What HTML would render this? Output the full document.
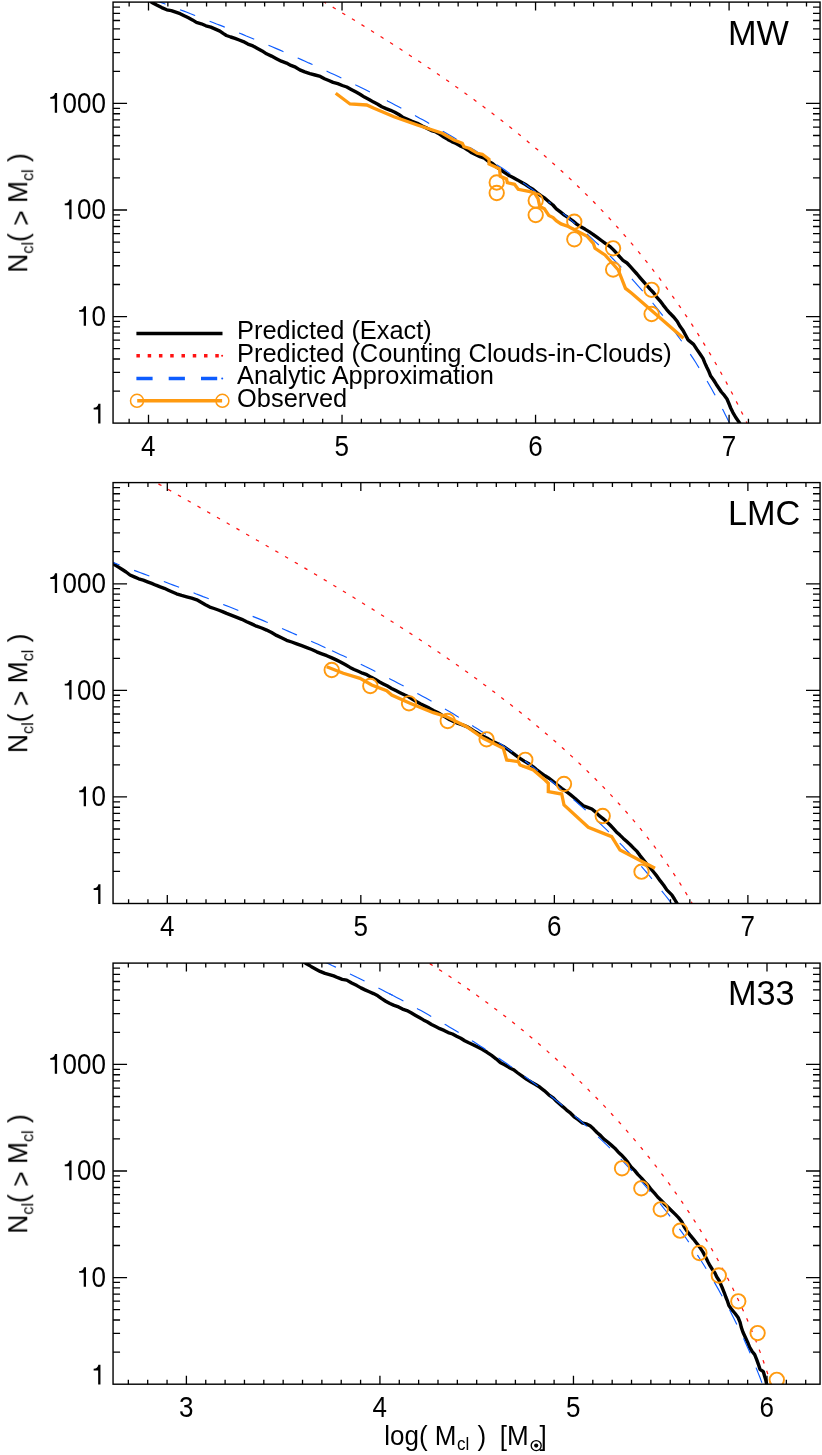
<!DOCTYPE html>
<html lang="en"><head><meta charset="utf-8"><title>Cloud mass functions</title>
<style>html,body{margin:0;padding:0;background:#fff}svg{display:block} text{font-family:"Liberation Sans", sans-serif;fill:#000}</style></head><body>
<svg width="822" height="1455" viewBox="0 0 822 1455">
<rect x="0" y="0" width="822" height="1455" fill="#fff"/>
<defs>
<filter id="ga" x="-5%" y="-5%" width="110%" height="110%" color-interpolation-filters="sRGB"><feOffset dx="0" dy="0"/></filter>
<clipPath id="cp0"><rect x="113.05" y="2.1" width="707.0" height="421.0"/></clipPath>
<clipPath id="cp1"><rect x="113.05" y="482.6" width="707.0" height="420.9"/></clipPath>
<clipPath id="cp2"><rect x="113.05" y="963.1" width="707.0" height="421.1"/></clipPath>
</defs>
<g id="panel0">
<g clip-path="url(#cp0)" fill="none" stroke-linejoin="round">
<polyline points="149.7,0.3 151.9,2.4 156.7,5.1 161.7,7.6 166.8,9.8 171.3,10.6 175.7,12.2 180.1,13.7 184.2,15.8 188.4,17.8 192.4,19.9 196.4,22.4 201.3,23.8 205.9,25.8 210.8,27.1 215.4,29.1 219.9,31.1 223.1,33.4 226.4,35.5 230.7,37.0 235.0,38.3 239.2,40.0 243.3,41.6 247.9,44.1 252.9,45.9 257.5,48.4 262.1,50.9 266.5,53.8 271.5,56.1 276.4,58.7 281.3,61.2 286.5,63.1 290.9,65.4 295.5,67.2 299.8,69.9 304.7,71.9 309.9,73.6 315.1,75.0 320.3,76.4 324.5,78.7 328.8,80.5 333.1,82.4 337.8,83.7 342.3,85.5 346.8,87.0 351.2,89.4 355.6,91.8 360.0,94.3 364.4,97.1 369.1,99.5 373.6,102.1 377.8,104.2 381.8,106.7 386.1,108.6 390.6,110.3 394.8,112.2 398.8,114.5 402.7,117.2 406.9,119.1 412.0,121.4 417.3,123.3 422.2,126.0 427.3,128.4 431.4,130.6 435.9,132.0 439.9,134.4 443.8,137.0 447.8,139.4 451.8,141.6 456.1,143.5 460.1,145.9 464.3,147.8 468.1,150.2 471.8,152.8 475.9,154.7 480.0,156.7 484.4,158.2 488.2,161.3 492.5,163.6 496.3,166.8 500.4,169.5 504.4,172.4 508.5,175.2 513.0,177.5 517.4,179.9 521.4,182.2 525.5,184.5 529.3,187.1 533.2,189.5 536.8,192.5 540.9,195.6 545.1,198.4 548.9,201.8 552.9,205.0 556.3,208.8 560.3,211.9 564.3,215.1 568.6,217.9 572.8,220.8 576.6,224.1 580.7,226.7 584.9,229.1 589.0,231.6 593.0,234.3 597.2,237.4 601.4,240.5 605.7,243.6 610.1,246.6 613.5,249.9 616.7,253.4 619.8,256.9 623.0,260.3 627.0,263.0 630.4,266.7 633.7,270.4 637.0,274.0 640.2,277.8 643.5,281.6 646.8,285.3 650.1,289.1 653.6,292.7 656.5,296.9 660.0,300.8 663.2,305.1 666.5,309.3 670.0,313.3 673.9,317.2 677.3,321.5 680.0,326.3 683.2,330.7 685.6,335.3 688.1,339.9 693.6,344.4 696.7,349.1 699.9,353.7 703.0,358.4 704.8,362.9 706.8,367.3 708.9,371.6 710.7,376.1 713.6,380.0 716.2,384.2 718.9,388.2 721.4,392.0 724.4,395.4 727.0,399.0 728.9,403.5 730.7,408.0 732.8,412.3 735.8,417.5 739.3,422.5 742.2,427.9" stroke="#000" stroke-width="3.4"/>
<polyline points="321.0,0.1 324.4,2.2 327.8,4.2 331.2,6.2 334.6,8.3 338.0,10.3 341.4,12.4 344.8,14.5 348.2,16.5 351.7,18.6 355.1,20.7 358.5,22.8 361.9,24.9 365.3,27.0 368.7,29.1 372.1,31.2 375.4,33.3 378.8,35.4 382.2,37.6 385.6,39.7 389.0,41.8 392.4,44.0 395.7,46.2 399.1,48.3 402.5,50.5 405.8,52.7 409.2,54.9 412.5,57.1 415.9,59.3 419.2,61.5 422.6,63.7 425.9,66.0 429.2,68.2 432.5,70.4 435.9,72.7 439.2,75.0 442.5,77.2 445.8,79.5 449.1,81.8 452.3,84.1 455.6,86.4 458.9,88.7 462.2,91.1 465.4,93.4 468.7,95.8 471.9,98.1 475.1,100.5 478.4,102.9 481.6,105.3 484.8,107.7 488.0,110.1 491.2,112.5 494.4,114.9 497.6,117.4 500.7,119.8 503.9,122.3 507.0,124.7 510.2,127.2 513.3,129.7 516.4,132.2 519.5,134.8 522.6,137.3 525.7,139.8 528.8,142.4 531.9,144.9 534.9,147.5 538.0,150.1 541.0,152.7 544.0,155.3 547.1,158.0 550.1,160.6 553.0,163.3 556.0,165.9 559.0,168.6 561.9,171.3 564.9,174.0 567.8,176.7 570.7,179.4 573.6,182.2 576.5,184.9 579.4,187.7 582.2,190.5 585.1,193.3 587.9,196.1 590.8,198.9 593.6,201.8 596.3,204.6 599.1,207.5 601.9,210.4 604.6,213.3 607.4,216.2 610.1,219.1 612.8,222.1 615.5,225.0 618.1,228.0 620.8,231.0 623.4,234.0 626.1,237.0 628.7,240.0 631.3,243.1 633.9,246.1 636.4,249.2 639.0,252.3 641.5,255.4 644.0,258.5 646.5,261.6 649.0,264.7 651.5,267.9 653.9,271.1 656.4,274.2 658.8,277.4 661.2,280.6 663.6,283.8 666.0,287.0 668.3,290.3 670.7,293.5 673.0,296.8 675.3,300.1 677.6,303.3 679.9,306.6 682.2,309.9 684.4,313.3 686.7,316.6 688.9,319.9 691.1,323.3 693.3,326.6 695.4,330.0 697.6,333.4 699.7,336.8 701.8,340.2 703.9,343.6 706.0,347.0 708.1,350.5 710.1,353.9 712.2,357.4 714.2,360.8 716.2,364.3 718.2,367.8 720.2,371.3 722.1,374.8 724.1,378.3 726.0,381.8 727.9,385.4 729.8,388.9 731.7,392.5 733.5,396.0 735.3,399.6 737.2,403.2 739.0,406.7 740.8,410.3 742.5,413.9 744.3,417.5 746.0,421.2 747.7,424.8 749.4,428.4" stroke="#ff1212" stroke-width="1.25" stroke-dasharray="3.5 7.73" stroke-dashoffset="8.79"/>
<polyline points="157.0,1.0 160.8,2.4 164.5,3.8 168.2,5.2 172.0,6.6 175.7,8.0 179.4,9.5 183.2,10.9 186.9,12.3 190.6,13.8 194.3,15.2 198.1,16.6 201.8,18.1 205.5,19.6 209.2,21.0 212.9,22.5 216.6,24.0 220.4,25.4 224.1,26.9 227.8,28.4 231.5,29.9 235.2,31.4 238.9,32.9 242.6,34.4 246.3,36.0 250.0,37.5 253.7,39.0 257.4,40.6 261.0,42.1 264.7,43.7 268.4,45.2 272.1,46.8 275.8,48.4 279.4,49.9 283.1,51.5 286.8,53.1 290.4,54.7 294.1,56.3 297.8,58.0 301.4,59.6 305.1,61.2 308.7,62.9 312.4,64.5 316.0,66.2 319.6,67.8 323.3,69.5 326.9,71.2 330.5,72.9 334.1,74.6 337.8,76.3 341.4,78.0 345.0,79.7 348.6,81.5 352.2,83.2 355.8,85.0 359.4,86.7 363.0,88.5 366.6,90.3 370.1,92.1 372.8,93.4" stroke="#0d5cff" stroke-width="1.15" stroke-dasharray="16.3 15.5" stroke-dashoffset="7.24"/>
<polyline points="386.9,100.6 388.0,101.2 391.5,103.0 395.1,104.9 398.6,106.7 402.1,108.6 405.7,110.5 409.2,112.4 412.7,114.3 416.2,116.2 419.7,118.2 423.3,120.1 426.8,122.1 430.2,124.0 433.7,126.0 437.2,128.0 440.7,130.0 444.2,132.0 447.6,134.0 451.1,136.1 454.5,138.1 458.0,140.2 461.4,142.2 464.8,144.3 468.3,146.4 471.7,148.5 475.1,150.6 478.5,152.8 481.9,154.9 485.2,157.1 488.6,159.3 492.0,161.4 495.3,163.7 498.7,165.9 502.0,168.1 505.3,170.3 508.6,172.6 511.9,174.9 515.2,177.2 518.5,179.5 521.7,181.8 525.0,184.1 528.2,186.5 531.4,188.8 534.7,191.2 537.9,193.6 541.0,196.0 544.2,198.5 547.4,200.9 550.0,202.9" stroke="#0d5cff" stroke-width="1.15" stroke-dasharray="16.3 15.5" stroke-dashoffset="0.00"/>
<polyline points="550.0,202.9 550.5,203.4 553.7,205.8 556.8,208.3 559.9,210.8 563.0,213.4 566.1,215.9 569.1,218.5 572.2,221.1 575.2,223.6 578.2,226.3 581.2,228.9 584.2,231.5 587.2,234.2 590.1,236.9 593.1,239.6 596.0,242.3 598.9,245.1 601.8,247.8 604.6,250.6 607.5,253.4 610.3,256.2 613.1,259.0 615.9,261.9 618.7,264.7 621.5,267.6 624.2,270.5 626.9,273.4 629.6,276.4 632.3,279.3 635.0,282.3 637.6,285.3 640.3,288.3 642.9,291.3 645.5,294.3 648.0,297.4 650.6,300.4 653.1,303.5 655.6,306.6 658.1,309.7 660.6,312.9 663.1,316.0 665.5,319.2 667.9,322.4 670.3,325.6 672.7,328.8 675.0,332.0 677.4,335.3 679.7,338.5 682.0,341.8 684.2,345.1 686.5,348.4 688.7,351.7 690.9,355.1 693.1,358.4 695.3,361.8 697.4,365.2 699.5,368.6 701.6,372.0 703.7,375.4 705.7,378.9 707.8,382.3 709.8,385.8 711.8,389.3 713.7,392.8 715.7,396.3 717.6,399.9 719.5,403.4 721.4,407.0 723.3,410.6 725.1,414.2 726.9,417.8 728.7,421.4 730.5,425.0 732.2,428.7" stroke="#0d5cff" stroke-width="1.15" stroke-dasharray="16.3 15.5" stroke-dashoffset="15.38"/>
<polyline points="335.7,93.3 350.0,104.0 366.7,105.0 374.0,108.3 394.0,116.7 417.3,125.0 442.3,133.3 454.0,140.0 462.3,143.3 464.0,146.7 469.0,148.3 477.3,153.3 482.3,154.3 489.0,159.3 489.0,164.0 499.5,168.8 500.3,176.3 506.5,179.0 507.3,182.7 514.5,184.3 518.2,189.3 530.0,191.7 534.5,193.0 538.0,198.5 539.8,206.5 544.4,208.8 548.8,215.5 553.1,217.5 556.2,220.7 561.0,223.9 568.3,226.5 575.0,230.0 586.7,236.0 593.3,243.3 595.0,248.3 605.0,255.0 618.3,270.0 625.5,288.4 631.7,293.3 683.5,338.3" stroke="#ff9a10" stroke-width="3.3" stroke-linejoin="miter"/>
<circle cx="496.7" cy="182.5" r="7.2" stroke="#ff9a10" stroke-width="1.9"/>
<circle cx="496.7" cy="193" r="7.2" stroke="#ff9a10" stroke-width="1.9"/>
<circle cx="535.7" cy="200.5" r="7.2" stroke="#ff9a10" stroke-width="1.9"/>
<circle cx="535.7" cy="215" r="7.2" stroke="#ff9a10" stroke-width="1.9"/>
<circle cx="574.3" cy="221.7" r="7.2" stroke="#ff9a10" stroke-width="1.9"/>
<circle cx="574.3" cy="239.3" r="7.2" stroke="#ff9a10" stroke-width="1.9"/>
<circle cx="613.1" cy="248.3" r="7.2" stroke="#ff9a10" stroke-width="1.9"/>
<circle cx="613.1" cy="269.5" r="7.2" stroke="#ff9a10" stroke-width="1.9"/>
<circle cx="651.6" cy="289.8" r="7.2" stroke="#ff9a10" stroke-width="1.9"/>
<circle cx="651.6" cy="314" r="7.2" stroke="#ff9a10" stroke-width="1.9"/>
</g>
<path d="M129.15 423.15v-4.3M129.15 2.1v4.3M148.50 423.15v-8.4M148.50 2.1v8.4M167.85 423.15v-4.3M167.85 2.1v4.3M187.21 423.15v-4.3M187.21 2.1v4.3M206.56 423.15v-4.3M206.56 2.1v4.3M225.91 423.15v-4.3M225.91 2.1v4.3M245.26 423.15v-4.3M245.26 2.1v4.3M264.62 423.15v-4.3M264.62 2.1v4.3M283.97 423.15v-4.3M283.97 2.1v4.3M303.32 423.15v-4.3M303.32 2.1v4.3M322.68 423.15v-4.3M322.68 2.1v4.3M342.03 423.15v-8.4M342.03 2.1v8.4M361.38 423.15v-4.3M361.38 2.1v4.3M380.74 423.15v-4.3M380.74 2.1v4.3M400.09 423.15v-4.3M400.09 2.1v4.3M419.44 423.15v-4.3M419.44 2.1v4.3M438.79 423.15v-4.3M438.79 2.1v4.3M458.15 423.15v-4.3M458.15 2.1v4.3M477.50 423.15v-4.3M477.50 2.1v4.3M496.85 423.15v-4.3M496.85 2.1v4.3M516.21 423.15v-4.3M516.21 2.1v4.3M535.56 423.15v-8.4M535.56 2.1v8.4M554.91 423.15v-4.3M554.91 2.1v4.3M574.27 423.15v-4.3M574.27 2.1v4.3M593.62 423.15v-4.3M593.62 2.1v4.3M612.97 423.15v-4.3M612.97 2.1v4.3M632.33 423.15v-4.3M632.33 2.1v4.3M651.68 423.15v-4.3M651.68 2.1v4.3M671.03 423.15v-4.3M671.03 2.1v4.3M690.38 423.15v-4.3M690.38 2.1v4.3M709.74 423.15v-4.3M709.74 2.1v4.3M729.09 423.15v-8.4M729.09 2.1v8.4M748.44 423.15v-4.3M748.44 2.1v4.3M767.80 423.15v-4.3M767.80 2.1v4.3M787.15 423.15v-4.3M787.15 2.1v4.3M806.50 423.15v-4.3M806.50 2.1v4.3M113.05 391.07h7M820.0 391.07h-7M113.05 372.30h7M820.0 372.30h-7M113.05 358.99h7M820.0 358.99h-7M113.05 348.66h7M820.0 348.66h-7M113.05 340.22h7M820.0 340.22h-7M113.05 333.09h7M820.0 333.09h-7M113.05 326.91h7M820.0 326.91h-7M113.05 321.46h7M820.0 321.46h-7M113.05 316.58h14M820.0 316.58h-14M113.05 284.50h7M820.0 284.50h-7M113.05 265.73h7M820.0 265.73h-7M113.05 252.42h7M820.0 252.42h-7M113.05 242.09h7M820.0 242.09h-7M113.05 233.65h7M820.0 233.65h-7M113.05 226.52h7M820.0 226.52h-7M113.05 220.34h7M820.0 220.34h-7M113.05 214.89h7M820.0 214.89h-7M113.05 210.01h14M820.0 210.01h-14M113.05 177.93h7M820.0 177.93h-7M113.05 159.16h7M820.0 159.16h-7M113.05 145.85h7M820.0 145.85h-7M113.05 135.52h7M820.0 135.52h-7M113.05 127.08h7M820.0 127.08h-7M113.05 119.95h7M820.0 119.95h-7M113.05 113.77h7M820.0 113.77h-7M113.05 108.32h7M820.0 108.32h-7M113.05 103.44h14M820.0 103.44h-14M113.05 71.36h7M820.0 71.36h-7M113.05 52.59h7M820.0 52.59h-7M113.05 39.28h7M820.0 39.28h-7M113.05 28.95h7M820.0 28.95h-7M113.05 20.51h7M820.0 20.51h-7M113.05 13.38h7M820.0 13.38h-7M113.05 7.20h7M820.0 7.20h-7" stroke="#000" stroke-width="1.3" fill="none"/>
<rect x="113.05" y="2.1" width="707.0" height="421.0" fill="none" stroke="#000" stroke-width="1.4"/>
</g>
<g id="panel1">
<g clip-path="url(#cp1)" fill="none" stroke-linejoin="round">
<polyline points="110.2,562.1 113.5,564.0 117.7,566.6 121.9,569.3 126.1,572.0 130.0,575.0 134.3,576.9 138.7,578.8 143.2,580.1 147.5,581.8 151.7,583.4 155.9,585.2 160.2,586.9 164.3,588.3 168.4,590.2 172.4,592.0 176.5,593.8 181.6,595.4 186.7,596.8 191.7,598.2 196.8,599.8 201.1,602.3 205.4,604.8 209.8,607.1 214.1,608.5 218.3,610.0 222.5,611.6 226.6,613.4 231.7,615.3 236.8,617.3 241.8,619.3 246.7,621.7 251.6,623.9 256.5,626.2 261.7,628.0 266.6,630.1 271.6,632.6 276.5,635.4 281.5,637.8 286.6,640.3 291.7,642.0 296.7,643.9 301.7,645.7 306.8,647.6 311.8,649.5 316.7,651.8 321.8,653.8 326.8,655.7 331.3,657.6 335.7,659.6 340.0,661.7 345.1,664.5 350.0,667.4 354.1,669.5 358.3,671.3 362.5,673.2 366.8,674.7 370.9,677.1 375.1,679.3 379.2,681.7 383.3,683.9 387.5,686.1 391.6,688.4 395.8,690.6 400.0,692.7 404.3,694.8 408.6,696.7 412.6,699.3 416.7,701.7 420.8,704.0 425.1,706.1 429.3,708.1 433.4,710.5 437.7,712.5 441.7,714.9 445.8,717.2 449.8,719.8 454.0,721.6 458.1,723.5 462.5,724.9 466.8,726.6 470.9,728.9 474.9,731.6 479.0,733.9 483.2,736.3 487.2,738.3 491.1,740.7 495.2,742.5 499.3,744.5 503.4,746.5 507.7,749.3 511.8,752.3 515.8,755.4 520.0,758.4 524.2,761.1 528.7,763.7 532.9,766.6 536.8,769.8 540.9,772.9 545.0,775.8 549.4,778.5 553.3,781.6 557.5,785.0 561.6,788.4 566.1,791.4 570.4,794.6 574.8,798.2 579.0,802.1 583.4,805.8 587.6,807.4 591.9,809.0 595.7,812.1 599.1,815.6 603.0,818.6 606.7,821.8 610.1,825.0 613.3,828.4 616.4,831.9 619.9,835.1 623.3,838.4 626.8,841.6 630.3,844.7 633.6,848.1 637.0,851.4 640.0,855.6 643.2,859.6 646.4,863.5 650.1,867.7 653.6,872.0 657.1,876.4 660.3,880.9 663.7,885.3 666.8,889.9 671.8,894.9 674.4,899.0 676.9,903.2 679.0,908.0" stroke="#000" stroke-width="3.4"/>
<polyline points="156.3,482.6 159.7,484.6 163.2,486.5 166.6,488.5 170.1,490.5 173.5,492.5 177.0,494.4 180.4,496.4 183.9,498.4 187.4,500.4 190.8,502.3 194.3,504.3 197.8,506.3 201.3,508.3 204.7,510.3 208.2,512.2 211.7,514.2 215.2,516.2 218.7,518.2 222.1,520.2 225.6,522.2 229.1,524.2 232.6,526.2 236.1,528.2 239.6,530.2 243.0,532.2 246.5,534.2 250.0,536.2 253.5,538.2 257.0,540.2 260.5,542.2 264.0,544.2 267.4,546.2 270.9,548.3 274.4,550.3 277.9,552.3 281.4,554.3 284.9,556.4 288.3,558.4 291.8,560.5 295.3,562.5 298.8,564.5 302.2,566.6 305.7,568.6 309.2,570.7 312.7,572.8 316.1,574.8 319.6,576.9 323.1,579.0 326.5,581.0 330.0,583.1 333.4,585.2 336.9,587.3 340.3,589.4 343.8,591.5 347.2,593.6 350.7,595.7 354.1,597.8 357.5,599.9 361.0,602.0 364.4,604.2 367.8,606.3 371.3,608.4 374.7,610.6 378.1,612.7 381.5,614.9 384.9,617.0 388.3,619.2 391.7,621.4 395.1,623.5 398.5,625.7 401.9,627.9 405.2,630.1 408.6,632.3 412.0,634.5 415.3,636.7 418.7,638.9 422.1,641.1 425.4,643.4 428.7,645.6 432.1,647.8 435.4,650.1 438.7,652.3 442.0,654.6 445.4,656.9 448.7,659.2 452.0,661.5 455.3,663.8 458.5,666.1 461.8,668.4 465.1,670.7 468.4,673.0 471.6,675.4 474.9,677.7 478.1,680.1 481.4,682.5 484.6,684.9 487.8,687.2 491.0,689.7 494.2,692.1 497.4,694.5 500.6,696.9 503.8,699.4 507.0,701.8 510.1,704.3 513.3,706.8 516.4,709.2 519.6,711.7 522.7,714.2 525.8,716.8 529.0,719.3 532.1,721.8 535.2,724.4 538.2,727.0 541.3,729.6 544.4,732.2 547.4,734.8 550.5,737.4 553.5,740.0 556.6,742.7 559.6,745.3 562.6,748.0 565.6,750.7 568.5,753.4 571.5,756.1 574.5,758.8 577.4,761.6 580.3,764.3 583.2,767.1 586.1,769.9 589.0,772.7 591.9,775.5 594.7,778.3 597.6,781.2 600.4,784.0 603.2,786.9 606.0,789.8 608.7,792.7 611.5,795.6 614.2,798.6 616.9,801.5 619.6,804.5 622.3,807.5 625.0,810.5 627.6,813.5 630.2,816.5 632.9,819.6 635.4,822.6 638.0,825.7 640.6,828.8 643.1,832.0 645.6,835.1 648.1,838.3 650.5,841.4 653.0,844.6 655.4,847.8 657.8,851.1 660.2,854.3 662.6,857.6 664.9,860.8 667.2,864.1 669.5,867.5 671.8,870.8 674.0,874.1 676.3,877.5 678.5,880.9 680.6,884.3 682.8,887.8 684.9,891.2 687.0,894.7 689.1,898.2 691.2,901.7 693.2,905.2 695.2,908.8" stroke="#ff1212" stroke-width="1.25" stroke-dasharray="3.5 7.73" stroke-dashoffset="8.76"/>
<polyline points="110.4,561.5 114.1,562.9 117.8,564.3 121.5,565.6 125.1,567.0 128.8,568.4 132.5,569.8 136.2,571.1 139.9,572.5 143.6,573.9 147.3,575.3 151.1,576.7 154.8,578.1 158.5,579.5 162.2,580.9 165.9,582.3 169.6,583.7 173.3,585.1 177.1,586.5 180.8,588.0 184.5,589.4 188.2,590.8 192.0,592.2 195.7,593.7 199.4,595.1 203.1,596.6 206.9,598.0 210.6,599.5 214.3,600.9 218.0,602.4 221.8,603.9 225.5,605.4 229.2,606.8 232.9,608.3 236.6,609.8 240.4,611.3 244.1,612.8 247.8,614.3 251.5,615.9 255.2,617.4 259.0,618.9 262.7,620.4 266.4,622.0 270.1,623.5 273.8,625.1 277.5,626.7 281.2,628.2 284.9,629.8 288.6,631.4 292.3,633.0 296.0,634.6 299.7,636.2 303.4,637.8 307.1,639.4 310.7,641.1 314.4,642.7 318.1,644.3 321.7,646.0 325.4,647.7 325.5,647.7" stroke="#0d5cff" stroke-width="1.15" stroke-dasharray="16.3 15.5" stroke-dashoffset="6.51"/>
<polyline points="332.0,650.7 332.7,651.0 336.4,652.7 340.0,654.4 343.7,656.1 347.3,657.8 350.9,659.6 354.6,661.3 358.2,663.0 361.8,664.8 365.4,666.6 369.0,668.3 372.6,670.1 376.2,671.9 379.8,673.7 383.4,675.5 387.0,677.4 390.5,679.2 394.1,681.0 397.7,682.9 401.2,684.8 404.8,686.6 408.3,688.5 411.8,690.4 415.4,692.3 418.9,694.3 422.4,696.2 425.9,698.1 429.4,700.1 432.9,702.1 436.3,704.0 439.8,706.0 443.3,708.0 446.7,710.1 450.2,712.1 453.6,714.1 457.0,716.2 460.5,718.3 463.9,720.3 467.3,722.4 470.7,724.5 474.0,726.7 477.4,728.8 480.8,730.9 484.1,733.1 487.5,735.3 490.8,737.5 494.1,739.7 497.4,741.9 500.7,744.1 504.0,746.3 507.3,748.6 510.6,750.9 513.8,753.2 517.1,755.5 520.3,757.8 523.6,760.1 526.8,762.5 530.0,764.8 533.2,767.2 536.3,769.6 539.5,772.0 542.7,774.4 545.8,776.9 548.9,779.3 552.1,781.8 555.2,784.3 558.3,786.8 560.0,788.2" stroke="#0d5cff" stroke-width="1.15" stroke-dasharray="16.3 15.5" stroke-dashoffset="0.00"/>
<polyline points="560.0,788.2 561.3,789.3 564.4,791.8 567.4,794.4 570.5,796.9 573.5,799.5 576.5,802.1 579.5,804.8 582.5,807.4 585.5,810.0 588.4,812.7 591.4,815.4 594.3,818.1 597.2,820.8 600.1,823.6 603.0,826.3 605.9,829.1 608.7,831.9 611.6,834.7 614.4,837.5 617.2,840.4 620.0,843.3 622.8,846.2 625.5,849.1 628.3,852.0 631.0,854.9 633.7,857.9 636.4,860.9 639.1,863.9 641.8,866.9 644.4,869.9 647.1,873.0 649.7,876.1 652.3,879.2 654.8,882.3 657.4,885.4 660.0,888.6 662.5,891.8 665.0,895.0 667.5,898.2 670.0,901.4 672.4,904.7 674.8,908.0" stroke="#0d5cff" stroke-width="1.15" stroke-dasharray="16.3 15.5" stroke-dashoffset="14.26"/>
<polyline points="326.7,666.7 343.3,673.3 360.0,678.3 371.7,685.0 386.7,690.7 391.7,695.0 410.0,703.3 433.3,712.7 446.7,716.7 466.7,726.7 483.3,738.3 503.3,748.3 506.7,760.0 518.3,761.7 520.0,765.0 533.3,770.0 545.0,780.0 548.3,783.3 548.3,791.7 561.7,794.0 564.0,805.0 588.3,827.3 611.7,836.7 620.0,850.0 655.0,868.3" stroke="#ff9a10" stroke-width="3.3" stroke-linejoin="miter"/>
<circle cx="331.7" cy="670" r="7.2" stroke="#ff9a10" stroke-width="1.9"/>
<circle cx="370.3" cy="686" r="7.2" stroke="#ff9a10" stroke-width="1.9"/>
<circle cx="409" cy="703.3" r="7.2" stroke="#ff9a10" stroke-width="1.9"/>
<circle cx="447.7" cy="721" r="7.2" stroke="#ff9a10" stroke-width="1.9"/>
<circle cx="486.6" cy="739.3" r="7.2" stroke="#ff9a10" stroke-width="1.9"/>
<circle cx="525.3" cy="759.8" r="7.2" stroke="#ff9a10" stroke-width="1.9"/>
<circle cx="564" cy="784" r="7.2" stroke="#ff9a10" stroke-width="1.9"/>
<circle cx="602.7" cy="816" r="7.2" stroke="#ff9a10" stroke-width="1.9"/>
<circle cx="641.5" cy="871.7" r="7.2" stroke="#ff9a10" stroke-width="1.9"/>
</g>
<path d="M128.59 903.5v-4.3M128.59 482.6v4.3M147.95 903.5v-4.3M147.95 482.6v4.3M167.30 903.5v-8.4M167.30 482.6v8.4M186.65 903.5v-4.3M186.65 482.6v4.3M206.01 903.5v-4.3M206.01 482.6v4.3M225.36 903.5v-4.3M225.36 482.6v4.3M244.71 903.5v-4.3M244.71 482.6v4.3M264.06 903.5v-4.3M264.06 482.6v4.3M283.42 903.5v-4.3M283.42 482.6v4.3M302.77 903.5v-4.3M302.77 482.6v4.3M322.12 903.5v-4.3M322.12 482.6v4.3M341.48 903.5v-4.3M341.48 482.6v4.3M360.83 903.5v-8.4M360.83 482.6v8.4M380.18 903.5v-4.3M380.18 482.6v4.3M399.54 903.5v-4.3M399.54 482.6v4.3M418.89 903.5v-4.3M418.89 482.6v4.3M438.24 903.5v-4.3M438.24 482.6v4.3M457.59 903.5v-4.3M457.59 482.6v4.3M476.95 903.5v-4.3M476.95 482.6v4.3M496.30 903.5v-4.3M496.30 482.6v4.3M515.65 903.5v-4.3M515.65 482.6v4.3M535.01 903.5v-4.3M535.01 482.6v4.3M554.36 903.5v-8.4M554.36 482.6v8.4M573.71 903.5v-4.3M573.71 482.6v4.3M593.07 903.5v-4.3M593.07 482.6v4.3M612.42 903.5v-4.3M612.42 482.6v4.3M631.77 903.5v-4.3M631.77 482.6v4.3M651.12 903.5v-4.3M651.12 482.6v4.3M670.48 903.5v-4.3M670.48 482.6v4.3M689.83 903.5v-4.3M689.83 482.6v4.3M709.18 903.5v-4.3M709.18 482.6v4.3M728.54 903.5v-4.3M728.54 482.6v4.3M747.89 903.5v-8.4M747.89 482.6v8.4M767.24 903.5v-4.3M767.24 482.6v4.3M786.60 903.5v-4.3M786.60 482.6v4.3M805.95 903.5v-4.3M805.95 482.6v4.3M113.05 871.42h7M820.0 871.42h-7M113.05 852.65h7M820.0 852.65h-7M113.05 839.34h7M820.0 839.34h-7M113.05 829.01h7M820.0 829.01h-7M113.05 820.57h7M820.0 820.57h-7M113.05 813.44h7M820.0 813.44h-7M113.05 807.26h7M820.0 807.26h-7M113.05 801.81h7M820.0 801.81h-7M113.05 796.93h14M820.0 796.93h-14M113.05 764.85h7M820.0 764.85h-7M113.05 746.08h7M820.0 746.08h-7M113.05 732.77h7M820.0 732.77h-7M113.05 722.44h7M820.0 722.44h-7M113.05 714.00h7M820.0 714.00h-7M113.05 706.87h7M820.0 706.87h-7M113.05 700.69h7M820.0 700.69h-7M113.05 695.24h7M820.0 695.24h-7M113.05 690.36h14M820.0 690.36h-14M113.05 658.28h7M820.0 658.28h-7M113.05 639.51h7M820.0 639.51h-7M113.05 626.20h7M820.0 626.20h-7M113.05 615.87h7M820.0 615.87h-7M113.05 607.43h7M820.0 607.43h-7M113.05 600.30h7M820.0 600.30h-7M113.05 594.12h7M820.0 594.12h-7M113.05 588.67h7M820.0 588.67h-7M113.05 583.79h14M820.0 583.79h-14M113.05 551.71h7M820.0 551.71h-7M113.05 532.94h7M820.0 532.94h-7M113.05 519.63h7M820.0 519.63h-7M113.05 509.30h7M820.0 509.30h-7M113.05 500.86h7M820.0 500.86h-7M113.05 493.73h7M820.0 493.73h-7M113.05 487.55h7M820.0 487.55h-7" stroke="#000" stroke-width="1.3" fill="none"/>
<rect x="113.05" y="482.6" width="707.0" height="420.9" fill="none" stroke="#000" stroke-width="1.4"/>
</g>
<g id="panel2">
<g clip-path="url(#cp2)" fill="none" stroke-linejoin="round">
<polyline points="302.8,961.3 306.5,963.7 311.0,966.4 315.5,968.9 320.1,971.4 325.0,973.4 329.4,974.6 333.7,975.9 337.9,977.7 342.2,979.3 346.7,980.1 351.7,983.0 356.9,985.6 360.9,987.9 365.0,989.9 369.3,991.8 373.5,993.6 377.8,995.8 381.7,998.6 385.7,1001.2 389.9,1003.5 394.1,1005.4 398.5,1006.9 402.5,1009.1 406.9,1010.6 411.1,1012.8 415.2,1015.2 419.3,1017.5 423.4,1019.9 427.5,1022.0 431.5,1024.5 435.6,1026.6 439.8,1028.7 444.1,1030.4 448.2,1032.6 452.5,1034.0 456.6,1036.2 460.8,1038.3 464.7,1040.8 468.8,1042.8 473.1,1044.7 477.7,1047.1 482.5,1049.5 487.0,1052.3 491.6,1055.4 496.0,1058.8 500.2,1062.4 504.6,1064.8 508.9,1067.4 513.5,1069.7 517.8,1073.0 522.2,1076.2 526.7,1079.4 531.1,1082.0 535.6,1084.5 540.0,1087.3 544.5,1090.8 548.8,1094.8 553.5,1098.1 556.5,1101.3 559.9,1104.2 563.3,1107.1 566.6,1110.1 570.6,1113.2 574.1,1116.8 578.2,1119.7 582.0,1122.8 586.1,1123.9 590.1,1125.8 593.7,1129.1 597.0,1132.5 600.6,1135.6 603.9,1139.1 607.7,1142.0 611.3,1145.1 614.8,1148.2 617.9,1151.7 621.4,1154.9 624.6,1158.4 627.9,1162.4 630.9,1166.7 634.6,1170.4 637.8,1174.4 641.5,1178.1 644.7,1181.9 648.2,1185.5 651.1,1189.5 654.5,1193.2 657.7,1197.0 661.2,1200.4 664.5,1204.0 668.1,1207.3 671.6,1210.7 675.1,1214.1 678.5,1217.6 681.6,1221.5 683.9,1226.3 686.7,1230.7 689.9,1234.9 693.2,1238.8 696.3,1242.8 699.5,1246.9 702.7,1251.6 705.4,1256.6 707.9,1261.8 710.0,1265.7 712.4,1269.5 715.0,1273.1 716.8,1277.0 719.1,1280.5 720.8,1284.4 722.6,1288.5 724.3,1292.8 725.8,1297.0 727.5,1301.2 728.9,1305.6 731.8,1309.7 735.1,1313.5 738.1,1317.5 740.1,1322.3 741.3,1327.4 743.0,1332.2 745.3,1337.3 747.6,1342.2 749.7,1347.4 752.0,1351.2 754.7,1354.6 756.6,1359.4 758.4,1364.3 760.0,1369.3 763.3,1371.6 764.5,1375.7 765.7,1379.7 766.6,1383.8 767.5,1387.9" stroke="#000" stroke-width="3.4"/>
<polyline points="427.1,962.0 430.5,964.1 433.9,966.2 437.2,968.4 440.6,970.5 443.9,972.7 447.2,974.9 450.5,977.1 453.9,979.3 457.2,981.5 460.5,983.8 463.8,986.0 467.0,988.3 470.3,990.6 473.6,992.9 476.8,995.2 480.1,997.6 483.3,999.9 486.5,1002.3 489.7,1004.7 492.9,1007.1 496.1,1009.5 499.3,1011.9 502.5,1014.3 505.7,1016.8 508.8,1019.3 512.0,1021.7 515.1,1024.2 518.2,1026.7 521.4,1029.3 524.5,1031.8 527.5,1034.3 530.6,1036.9 533.7,1039.5 536.8,1042.1 539.8,1044.7 542.8,1047.3 545.9,1049.9 548.9,1052.6 551.9,1055.2 554.9,1057.9 557.8,1060.6 560.8,1063.3 563.8,1066.0 566.7,1068.7 569.6,1071.5 572.5,1074.2 575.4,1077.0 578.3,1079.8 581.2,1082.6 584.1,1085.4 586.9,1088.2 589.7,1091.1 592.6,1093.9 595.4,1096.8 598.2,1099.6 600.9,1102.5 603.7,1105.4 606.5,1108.3 609.2,1111.3 611.9,1114.2 614.6,1117.2 617.3,1120.1 620.0,1123.1 622.7,1126.1 625.3,1129.1 627.9,1132.1 630.6,1135.1 633.2,1138.2 635.7,1141.2 638.3,1144.3 640.9,1147.4 643.4,1150.5 645.9,1153.6 648.4,1156.7 650.9,1159.8 653.4,1163.0 655.9,1166.1 658.3,1169.3 660.7,1172.5 663.1,1175.7 665.5,1178.9 667.9,1182.1 670.3,1185.3 672.6,1188.6 674.9,1191.8 677.2,1195.1 679.5,1198.4 681.8,1201.6 684.0,1204.9 686.3,1208.3 688.5,1211.6 690.7,1214.9 692.9,1218.3 695.0,1221.6 697.2,1225.0 699.3,1228.4 701.4,1231.8 703.5,1235.2 705.5,1238.6 707.6,1242.0 709.6,1245.5 711.6,1248.9 713.6,1252.4 715.6,1255.9 717.5,1259.3 719.4,1262.8 721.3,1266.4 723.2,1269.9 725.1,1273.4 727.0,1276.9 728.8,1280.5 730.6,1284.1 732.4,1287.6 734.1,1291.2 735.9,1294.8 737.6,1298.4 739.3,1302.1 741.0,1305.7 742.6,1309.3 744.3,1313.0 745.9,1316.7 747.5,1320.3 749.0,1324.0 750.6,1327.7 752.1,1331.4 753.6,1335.1 755.1,1338.9 756.6,1342.6 758.0,1346.4 759.4,1350.1 760.8,1353.9 762.2,1357.7 763.5,1361.5 764.8,1365.3 766.1,1369.1 767.4,1372.9 768.6,1376.7 769.9,1380.6 771.1,1384.4 772.2,1388.3" stroke="#ff1212" stroke-width="1.25" stroke-dasharray="3.5 7.73" stroke-dashoffset="8.21"/>
<polyline points="324.8,962.1 328.5,963.8 332.1,965.5 335.7,967.1 339.3,968.8 342.9,970.5 346.5,972.3 350.1,974.0 353.7,975.7 357.3,977.5 360.9,979.2 364.4,981.0 368.0,982.8 371.6,984.6 375.2,986.4 378.8,988.2 382.3,990.0 385.9,991.9 389.5,993.7 392.5,995.3" stroke="#0d5cff" stroke-width="1.15" stroke-dasharray="16.3 15.5" stroke-dashoffset="3.99"/>
<polyline points="389.2,993.6 389.5,993.7 393.0,995.6 396.6,997.4 400.2,999.3 403.7,1001.2 407.2,1003.1 410.8,1005.0 414.3,1006.9 417.8,1008.9 421.4,1010.8 424.9,1012.8 428.4,1014.8 431.9,1016.8 435.4,1018.8 438.9,1020.8 442.4,1022.8 445.8,1024.8 449.3,1026.9 452.8,1029.0 456.2,1031.0 459.7,1033.1 463.1,1035.2 466.5,1037.3 469.9,1039.5 473.4,1041.6 476.8,1043.8 480.2,1045.9 483.5,1048.1 486.9,1050.3 490.3,1052.5 493.6,1054.7 497.0,1057.0 500.3,1059.2 503.6,1061.5 507.0,1063.8 510.3,1066.1 513.6,1068.4 516.8,1070.7 520.1,1073.0 523.4,1075.4 526.6,1077.7 529.9,1080.1 533.1,1082.5 536.3,1084.9 539.5,1087.4 542.7,1089.8 545.9,1092.3 549.0,1094.7 552.2,1097.2 555.3,1099.7 558.4,1102.2 561.5,1104.8 564.6,1107.3 567.7,1109.9 570.8,1112.4 573.8,1115.0 576.9,1117.7 579.9,1120.3 582.9,1122.9 585.9,1125.6 588.9,1128.3 591.8,1130.9 594.8,1133.7 597.7,1136.4 600.6,1139.1 603.5,1141.9 606.4,1144.7 609.2,1147.4 612.1,1150.3 614.9,1153.1 617.7,1155.9 620.5,1158.8 623.3,1161.7 626.0,1164.6 628.8,1167.5 631.5,1170.4 634.2,1173.3 636.9,1176.3 639.6,1179.3 640.0,1179.8" stroke="#0d5cff" stroke-width="1.15" stroke-dasharray="16.3 15.5" stroke-dashoffset="0.27"/>
<polyline points="640.0,1179.8 642.2,1182.3 644.8,1185.3 647.4,1188.3 650.0,1191.4 652.6,1194.4 655.2,1197.5 657.7,1200.6 660.2,1203.7 662.7,1206.8 665.2,1210.0 667.6,1213.2 670.1,1216.3 672.5,1219.5 674.9,1222.7 677.3,1225.9 679.6,1229.2 682.0,1232.4 684.3,1235.7 686.6,1239.0 688.9,1242.3 691.2,1245.6 693.4,1248.9 695.6,1252.2 697.8,1255.6 700.0,1259.0 702.1,1262.3 704.3,1265.7 706.4,1269.1 708.5,1272.6 710.6,1276.0 712.6,1279.5 714.7,1282.9 716.7,1286.4 718.7,1289.9 720.6,1293.4 722.6,1296.9 724.5,1300.4 726.4,1304.0 728.3,1307.5 730.2,1311.1 732.0,1314.7 733.8,1318.3 735.6,1321.9 737.4,1325.5 739.1,1329.1 740.9,1332.8 742.6,1336.4 744.3,1340.1 745.9,1343.7 747.6,1347.4 749.2,1351.1 750.8,1354.8 752.4,1358.6 753.9,1362.3 755.4,1366.0 756.9,1369.8 758.4,1373.6 759.9,1377.3 761.3,1381.1 762.7,1384.9 764.1,1388.7" stroke="#0d5cff" stroke-width="1.15" stroke-dasharray="16.3 15.5" stroke-dashoffset="0.73"/>
<circle cx="622" cy="1168.3" r="7.2" stroke="#ff9a10" stroke-width="1.9"/>
<circle cx="641.3" cy="1188.3" r="7.2" stroke="#ff9a10" stroke-width="1.9"/>
<circle cx="660.7" cy="1209.3" r="7.2" stroke="#ff9a10" stroke-width="1.9"/>
<circle cx="680.2" cy="1230.7" r="7.2" stroke="#ff9a10" stroke-width="1.9"/>
<circle cx="699.4" cy="1253" r="7.2" stroke="#ff9a10" stroke-width="1.9"/>
<circle cx="718.8" cy="1275.5" r="7.2" stroke="#ff9a10" stroke-width="1.9"/>
<circle cx="738.3" cy="1301.3" r="7.2" stroke="#ff9a10" stroke-width="1.9"/>
<circle cx="757.6" cy="1333.1" r="7.2" stroke="#ff9a10" stroke-width="1.9"/>
<circle cx="776.8" cy="1379.8" r="7.2" stroke="#ff9a10" stroke-width="1.9"/>
</g>
<path d="M128.34 1384.15v-4.3M128.34 963.1v4.3M147.69 1384.15v-4.3M147.69 963.1v4.3M167.05 1384.15v-4.3M167.05 963.1v4.3M186.40 1384.15v-8.4M186.40 963.1v8.4M205.75 1384.15v-4.3M205.75 963.1v4.3M225.11 1384.15v-4.3M225.11 963.1v4.3M244.46 1384.15v-4.3M244.46 963.1v4.3M263.81 1384.15v-4.3M263.81 963.1v4.3M283.17 1384.15v-4.3M283.17 963.1v4.3M302.52 1384.15v-4.3M302.52 963.1v4.3M321.87 1384.15v-4.3M321.87 963.1v4.3M341.22 1384.15v-4.3M341.22 963.1v4.3M360.58 1384.15v-4.3M360.58 963.1v4.3M379.93 1384.15v-8.4M379.93 963.1v8.4M399.28 1384.15v-4.3M399.28 963.1v4.3M418.64 1384.15v-4.3M418.64 963.1v4.3M437.99 1384.15v-4.3M437.99 963.1v4.3M457.34 1384.15v-4.3M457.34 963.1v4.3M476.69 1384.15v-4.3M476.69 963.1v4.3M496.05 1384.15v-4.3M496.05 963.1v4.3M515.40 1384.15v-4.3M515.40 963.1v4.3M534.75 1384.15v-4.3M534.75 963.1v4.3M554.11 1384.15v-4.3M554.11 963.1v4.3M573.46 1384.15v-8.4M573.46 963.1v8.4M592.81 1384.15v-4.3M592.81 963.1v4.3M612.17 1384.15v-4.3M612.17 963.1v4.3M631.52 1384.15v-4.3M631.52 963.1v4.3M650.87 1384.15v-4.3M650.87 963.1v4.3M670.23 1384.15v-4.3M670.23 963.1v4.3M689.58 1384.15v-4.3M689.58 963.1v4.3M708.93 1384.15v-4.3M708.93 963.1v4.3M728.28 1384.15v-4.3M728.28 963.1v4.3M747.64 1384.15v-4.3M747.64 963.1v4.3M766.99 1384.15v-8.4M766.99 963.1v8.4M786.34 1384.15v-4.3M786.34 963.1v4.3M805.70 1384.15v-4.3M805.70 963.1v4.3M113.05 1352.07h7M820.0 1352.07h-7M113.05 1333.30h7M820.0 1333.30h-7M113.05 1319.99h7M820.0 1319.99h-7M113.05 1309.66h7M820.0 1309.66h-7M113.05 1301.22h7M820.0 1301.22h-7M113.05 1294.09h7M820.0 1294.09h-7M113.05 1287.91h7M820.0 1287.91h-7M113.05 1282.46h7M820.0 1282.46h-7M113.05 1277.58h14M820.0 1277.58h-14M113.05 1245.50h7M820.0 1245.50h-7M113.05 1226.73h7M820.0 1226.73h-7M113.05 1213.42h7M820.0 1213.42h-7M113.05 1203.09h7M820.0 1203.09h-7M113.05 1194.65h7M820.0 1194.65h-7M113.05 1187.52h7M820.0 1187.52h-7M113.05 1181.34h7M820.0 1181.34h-7M113.05 1175.89h7M820.0 1175.89h-7M113.05 1171.01h14M820.0 1171.01h-14M113.05 1138.93h7M820.0 1138.93h-7M113.05 1120.16h7M820.0 1120.16h-7M113.05 1106.85h7M820.0 1106.85h-7M113.05 1096.52h7M820.0 1096.52h-7M113.05 1088.08h7M820.0 1088.08h-7M113.05 1080.95h7M820.0 1080.95h-7M113.05 1074.77h7M820.0 1074.77h-7M113.05 1069.32h7M820.0 1069.32h-7M113.05 1064.44h14M820.0 1064.44h-14M113.05 1032.36h7M820.0 1032.36h-7M113.05 1013.59h7M820.0 1013.59h-7M113.05 1000.28h7M820.0 1000.28h-7M113.05 989.95h7M820.0 989.95h-7M113.05 981.51h7M820.0 981.51h-7M113.05 974.38h7M820.0 974.38h-7M113.05 968.20h7M820.0 968.20h-7" stroke="#000" stroke-width="1.3" fill="none"/>
<rect x="113.05" y="963.1" width="707.0" height="421.1" fill="none" stroke="#000" stroke-width="1.4"/>
</g>
<g id="legend">
<path d="M136.4 333.4H222.5" stroke="#000" stroke-width="3.5"/>
<path d="M136.4 355.8H222.5" stroke="#ff1212" stroke-width="3.5" stroke-dasharray="3.5 7.77"/>
<path d="M136.4 378.4H222.5" stroke="#0d5cff" stroke-width="3.5" stroke-dasharray="16.2 16.1"/>
<circle cx="222.2" cy="378.4" r="1.0" fill="#0d5cff"/>
<circle cx="222.1" cy="355.8" r="1.0" fill="#ff1212"/>
<path d="M137.20000000000002 400.8H222.1" stroke="#ff9a10" stroke-width="3.5"/>
<circle cx="137" cy="400.8" r="6.5" fill="none" stroke="#ff9a10" stroke-width="1.5"/>
<circle cx="222.4" cy="400.8" r="6.5" fill="none" stroke="#ff9a10" stroke-width="1.5"/>
</g>
<circle cx="536.2" cy="1445.6" r="5.0" fill="none" stroke="#000" stroke-width="1.35"/>
<circle cx="536.2" cy="1445.6" r="2.1" fill="#000"/>
<g id="labels" filter="url(#ga)">
<text transform="translate(148.30 455.90) scale(1.0 1.1)" font-size="26" text-anchor="middle">4</text>
<text transform="translate(341.83 455.90) scale(1.0 1.1)" font-size="26" text-anchor="middle">5</text>
<text transform="translate(535.36 455.90) scale(1.0 1.1)" font-size="26" text-anchor="middle">6</text>
<text transform="translate(728.89 455.90) scale(1.0 1.1)" font-size="26" text-anchor="middle">7</text>
<path d="M93.65 409.53L93.65 407.79C96.38 407.79 97.81 406.62 98.41 403.87L100.46 403.87L100.46 423.55L98.17 423.55L98.17 409.53Z" fill="#000"/>
<text transform="translate(105.90 325.83) scale(1.0 1.1)" font-size="26" text-anchor="end">0</text>
<path d="M79.19 311.81L79.19 310.07C81.92 310.07 83.35 308.90 83.95 306.15L86.00 306.15L86.00 325.83L83.71 325.83L83.71 311.81Z" fill="#000"/>
<text transform="translate(105.90 219.26) scale(1.0 1.1)" font-size="26" text-anchor="end">00</text>
<path d="M64.73 205.24L64.73 203.50C67.46 203.50 68.89 202.33 69.48 199.58L71.54 199.58L71.54 219.26L69.25 219.26L69.25 205.24Z" fill="#000"/>
<text transform="translate(105.90 112.69) scale(1.0 1.1)" font-size="26" text-anchor="end">000</text>
<path d="M50.27 98.67L50.27 96.93C53.00 96.93 54.43 95.76 55.02 93.01L57.08 93.01L57.08 112.69L54.79 112.69L54.79 98.67Z" fill="#000"/>
<text transform="translate(27.0 272.7) rotate(-90) scale(1.015 1.07)" font-size="26">N<tspan font-size="16" dy="6.3">cl</tspan><tspan dy="-6.3">( </tspan><tspan dy="3.2">&gt;</tspan><tspan dy="-3.2"> M</tspan><tspan font-size="16" dy="6.3">cl</tspan><tspan dy="-6.3"> )</tspan></text>
<text transform="translate(727.90 44.50) scale(1.0 1.045)" font-size="34.3" text-anchor="start">MW</text>
<text transform="translate(167.10 936.25) scale(1.0 1.1)" font-size="26" text-anchor="middle">4</text>
<text transform="translate(360.63 936.25) scale(1.0 1.1)" font-size="26" text-anchor="middle">5</text>
<text transform="translate(554.16 936.25) scale(1.0 1.1)" font-size="26" text-anchor="middle">6</text>
<text transform="translate(747.69 936.25) scale(1.0 1.1)" font-size="26" text-anchor="middle">7</text>
<path d="M93.65 889.88L93.65 888.14C96.38 888.14 97.81 886.97 98.41 884.22L100.46 884.22L100.46 903.90L98.17 903.90L98.17 889.88Z" fill="#000"/>
<text transform="translate(105.90 806.18) scale(1.0 1.1)" font-size="26" text-anchor="end">0</text>
<path d="M79.19 792.16L79.19 790.42C81.92 790.42 83.35 789.25 83.95 786.50L86.00 786.50L86.00 806.18L83.71 806.18L83.71 792.16Z" fill="#000"/>
<text transform="translate(105.90 699.61) scale(1.0 1.1)" font-size="26" text-anchor="end">00</text>
<path d="M64.73 685.59L64.73 683.85C67.46 683.85 68.89 682.68 69.48 679.93L71.54 679.93L71.54 699.61L69.25 699.61L69.25 685.59Z" fill="#000"/>
<text transform="translate(105.90 593.04) scale(1.0 1.1)" font-size="26" text-anchor="end">000</text>
<path d="M50.27 579.02L50.27 577.28C53.00 577.28 54.43 576.11 55.02 573.36L57.08 573.36L57.08 593.04L54.79 593.04L54.79 579.02Z" fill="#000"/>
<text transform="translate(27.0 753.1) rotate(-90) scale(1.015 1.07)" font-size="26">N<tspan font-size="16" dy="6.3">cl</tspan><tspan dy="-6.3">( </tspan><tspan dy="3.2">&gt;</tspan><tspan dy="-3.2"> M</tspan><tspan font-size="16" dy="6.3">cl</tspan><tspan dy="-6.3"> )</tspan></text>
<text transform="translate(727.90 525.00) scale(1.0 1.045)" font-size="34.3" text-anchor="start">LMC</text>
<text transform="translate(186.20 1416.90) scale(1.0 1.1)" font-size="26" text-anchor="middle">3</text>
<text transform="translate(379.73 1416.90) scale(1.0 1.1)" font-size="26" text-anchor="middle">4</text>
<text transform="translate(573.26 1416.90) scale(1.0 1.1)" font-size="26" text-anchor="middle">5</text>
<text transform="translate(766.79 1416.90) scale(1.0 1.1)" font-size="26" text-anchor="middle">6</text>
<path d="M93.65 1370.53L93.65 1368.79C96.38 1368.79 97.81 1367.62 98.41 1364.87L100.46 1364.87L100.46 1384.55L98.17 1384.55L98.17 1370.53Z" fill="#000"/>
<text transform="translate(105.90 1286.83) scale(1.0 1.1)" font-size="26" text-anchor="end">0</text>
<path d="M79.19 1272.81L79.19 1271.07C81.92 1271.07 83.35 1269.90 83.95 1267.15L86.00 1267.15L86.00 1286.83L83.71 1286.83L83.71 1272.81Z" fill="#000"/>
<text transform="translate(105.90 1180.26) scale(1.0 1.1)" font-size="26" text-anchor="end">00</text>
<path d="M64.73 1166.24L64.73 1164.50C67.46 1164.50 68.89 1163.33 69.48 1160.58L71.54 1160.58L71.54 1180.26L69.25 1180.26L69.25 1166.24Z" fill="#000"/>
<text transform="translate(105.90 1073.69) scale(1.0 1.1)" font-size="26" text-anchor="end">000</text>
<path d="M50.27 1059.67L50.27 1057.93C53.00 1057.93 54.43 1056.76 55.02 1054.01L57.08 1054.01L57.08 1073.69L54.79 1073.69L54.79 1059.67Z" fill="#000"/>
<text transform="translate(27.0 1233.7) rotate(-90) scale(1.015 1.07)" font-size="26">N<tspan font-size="16" dy="6.3">cl</tspan><tspan dy="-6.3">( </tspan><tspan dy="3.2">&gt;</tspan><tspan dy="-3.2"> M</tspan><tspan font-size="16" dy="6.3">cl</tspan><tspan dy="-6.3"> )</tspan></text>
<text transform="translate(727.90 1005.50) scale(1.0 1.045)" font-size="34.3" text-anchor="start">M33</text>
<text transform="translate(237.10 339.20) scale(1.0 1.01)" font-size="25.4" text-anchor="start">Predicted (Exact)</text>
<text transform="translate(237.10 361.65) scale(1.0 1.01)" font-size="25.4" text-anchor="start">Predicted (Counting Clouds-in-Clouds)</text>
<text transform="translate(237.10 384.10) scale(1.0 1.01)" font-size="25.4" text-anchor="start">Analytic Approximation</text>
<text transform="translate(237.10 406.55) scale(1.0 1.01)" font-size="25.4" text-anchor="start">Observed</text>
<text transform="translate(384.2 1444.9) scale(1 1.06)" font-size="26">log( M<tspan font-size="17" dx="0.7" dy="5.0">cl</tspan><tspan dy="-5.0" dx="0.9"> )  </tspan></text>
<text transform="translate(499.70 1444.90) scale(1.0 1.06)" font-size="26" text-anchor="start">[M</text>
<text transform="translate(539.60 1444.90) scale(1.0 1.06)" font-size="26" text-anchor="start">]</text>
</g>
</svg></body></html>
